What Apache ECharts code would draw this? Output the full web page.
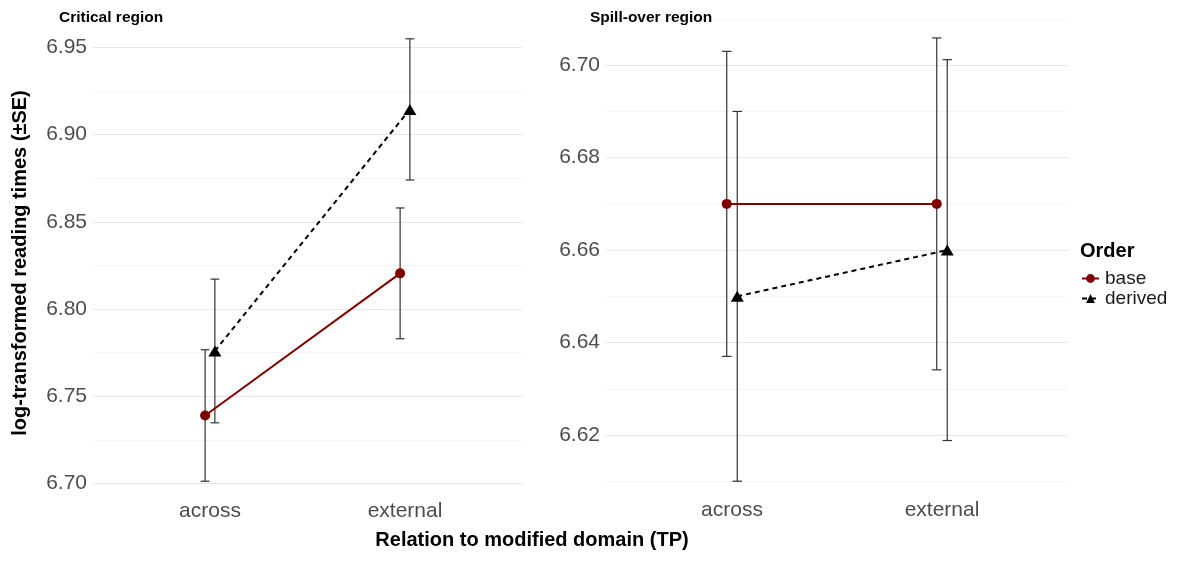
<!DOCTYPE html>
<html>
<head>
<meta charset="utf-8">
<script src="https://cdn.jsdelivr.net/npm/echarts@6/dist/echarts.min.js"></script>
<style>html,body{margin:0;padding:0;background:#fff}#c{width:1179px;height:561px}</style>
</head>
<body>
<div id="c"></div>
<script>
// ---- data ----
const categories = ['across', 'external'];
const orders = ['base', 'derived'];
// Critical region
const critBaseMean = [6.739, 6.8205];
const critBaseSE = [0.0377, 0.0375];
const critDerivedMean = [6.776, 6.9145];
const critDerivedSE = [0.0412, 0.0405];
// Spill-over region
const spillBaseMean = [6.670, 6.670];
const spillBaseSE = [0.033, 0.0359];
const spillDerivedMean = [6.650, 6.660];
const spillDerivedSE = [0.040, 0.0412];
// axis ticks
const critTicks = [6.70, 6.75, 6.80, 6.85, 6.90, 6.95];
const spillTicks = [6.62, 6.64, 6.66, 6.68, 6.70];

// ---- styling / layout params ----
const FONT = "'Liberation Sans', Arial, Helvetica, sans-serif";
const dodge = 0.025;      // position_dodge offset (category units)
const capHalf = 0.0225;   // error bar cap half width (category units)
const baseColor = '#800000';
const derivedColor = '#000000';

function pts(means, off) {
  return means.map((m, i) => [i + 1 + off, m]);
}
function bars(means, ses, off) {
  return means.map((m, i) => [i + 1 + off, m - ses[i], m + ses[i]]);
}
function errRender(params, api) {
  const x = api.value(0), lo = api.value(1), hi = api.value(2);
  const top = api.coord([x, hi]), bot = api.coord([x, lo]);
  const tl = api.coord([x - capHalf, hi]), tr = api.coord([x + capHalf, hi]);
  const bl = api.coord([x - capHalf, lo]), br = api.coord([x + capHalf, lo]);
  const st = { stroke: '#333333', lineWidth: 1.2 };
  return {
    type: 'group',
    children: [
      { type: 'line', shape: { x1: top[0], y1: top[1], x2: bot[0], y2: bot[1] }, style: st },
      { type: 'line', shape: { x1: tl[0], y1: tl[1], x2: tr[0], y2: tr[1] }, style: st },
      { type: 'line', shape: { x1: bl[0], y1: bl[1], x2: br[0], y2: br[1] }, style: st }
    ]
  };
}

const xAxisBase = {
  type: 'value', min: 0.4, max: 2.6,
  axisLine: { show: false }, axisTick: { show: false }, splitLine: { show: false },
  axisLabel: {
    customValues: [1, 2],
    formatter: v => categories[Math.round(v) - 1] || '',
    color: '#4d4d4d', fontSize: 21, fontFamily: FONT
  }
};

const chart = echarts.init(document.getElementById('c'), null, { renderer: 'canvas' });
const option = {
  animation: false,
  backgroundColor: '#ffffff',
  grid: [
    { left: 93, top: 47.5, width: 429, height: 436 },
    { left: 606, top: 19, width: 462, height: 462.2 }
  ],
  xAxis: [
    Object.assign({}, xAxisBase, { gridIndex: 0, axisLabel: Object.assign({}, xAxisBase.axisLabel, { margin: 17 }) }),
    Object.assign({}, xAxisBase, { gridIndex: 1, axisLabel: Object.assign({}, xAxisBase.axisLabel, { margin: 19 }) })
  ],
  yAxis: [
    {
      type: 'value', gridIndex: 0, min: 6.70, max: 6.95, interval: 0.025,
      axisLine: { show: false }, axisTick: { show: false },
      splitLine: { show: true, lineStyle: { color: ['#e6e6e6', '#f3f3f3'], width: 1 } },
      axisLabel: {
        margin: 6, color: '#4d4d4d', fontSize: 21, fontFamily: FONT,
        formatter: v => critTicks.some(t => Math.abs(t - v) < 1e-6) ? v.toFixed(2) : ''
      }
    },
    {
      type: 'value', gridIndex: 1, min: 6.61, max: 6.71, interval: 0.01,
      axisLine: { show: false }, axisTick: { show: false },
      splitLine: { show: true, lineStyle: { color: ['#f3f3f3', '#e6e6e6'], width: 1 } },
      axisLabel: {
        margin: 6, color: '#4d4d4d', fontSize: 21, fontFamily: FONT,
        formatter: v => spillTicks.some(t => Math.abs(t - v) < 1e-6) ? v.toFixed(2) : ''
      }
    }
  ],
  title: [
    { text: 'Critical region', left: 59, top: 10, padding: 0, textStyle: { fontSize: 15.5, fontWeight: 'bold', color: '#000', fontFamily: FONT } },
    { text: 'Spill-over region', left: 590, top: 10, padding: 0, textStyle: { fontSize: 15.5, fontWeight: 'bold', color: '#000', fontFamily: FONT } },
    { text: 'Order', left: 1080, top: 241, padding: 0, textStyle: { fontSize: 20, fontWeight: 'bold', color: '#000', fontFamily: FONT } }
  ],
  legend: {
    data: orders, orient: 'vertical', left: 1076, top: 264,
    itemWidth: 17, itemHeight: 11, itemGap: 1,
    textStyle: { fontSize: 19, color: '#1a1a1a', fontFamily: FONT, padding: [0, 0, 0, 1] },
    selectedMode: false
  },
  graphic: [
    { type: 'text', x: 20, y: 263, rotation: Math.PI / 2,
      style: { text: 'log-transformed reading times (±SE)', fontSize: 20, fontWeight: 'bold', fill: '#000', font: 'bold 20px ' + FONT, textAlign: 'center', textVerticalAlign: 'middle' } },
    { type: 'text', x: 532, y: 540,
      style: { text: 'Relation to modified domain (TP)', fontSize: 20, fontWeight: 'bold', fill: '#000', font: 'bold 20px ' + FONT, textAlign: 'center', textVerticalAlign: 'middle' } }
  ],
  series: [
    // error bars
    { type: 'custom', xAxisIndex: 0, yAxisIndex: 0, renderItem: errRender, clip: false, z: 1, silent: true,
      encode: { x: 0, y: [1, 2] }, data: bars(critBaseMean, critBaseSE, -dodge) },
    { type: 'custom', xAxisIndex: 0, yAxisIndex: 0, renderItem: errRender, clip: false, z: 1, silent: true,
      encode: { x: 0, y: [1, 2] }, data: bars(critDerivedMean, critDerivedSE, dodge) },
    { type: 'custom', xAxisIndex: 1, yAxisIndex: 1, renderItem: errRender, clip: false, z: 1, silent: true,
      encode: { x: 0, y: [1, 2] }, data: bars(spillBaseMean, spillBaseSE, -dodge) },
    { type: 'custom', xAxisIndex: 1, yAxisIndex: 1, renderItem: errRender, clip: false, z: 1, silent: true,
      encode: { x: 0, y: [1, 2] }, data: bars(spillDerivedMean, spillDerivedSE, dodge) },
    // lines + points
    { name: 'base', type: 'line', xAxisIndex: 0, yAxisIndex: 0, z: 3, clip: false,
      data: pts(critBaseMean, -dodge), symbol: 'circle', symbolSize: 10,
      lineStyle: { color: baseColor, width: 2 }, itemStyle: { color: baseColor } },
    { name: 'derived', type: 'line', xAxisIndex: 0, yAxisIndex: 0, z: 3, clip: false,
      data: pts(critDerivedMean, dodge), symbol: 'triangle', symbolSize: [13, 11],
      lineStyle: { color: derivedColor, width: 2, type: [5, 4] }, itemStyle: { color: derivedColor } },
    { name: 'base', type: 'line', xAxisIndex: 1, yAxisIndex: 1, z: 3, clip: false,
      data: pts(spillBaseMean, -dodge), symbol: 'circle', symbolSize: 10,
      lineStyle: { color: baseColor, width: 2 }, itemStyle: { color: baseColor } },
    { name: 'derived', type: 'line', xAxisIndex: 1, yAxisIndex: 1, z: 3, clip: false,
      data: pts(spillDerivedMean, dodge), symbol: 'triangle', symbolSize: [13, 11],
      lineStyle: { color: derivedColor, width: 2, type: [5, 4] }, itemStyle: { color: derivedColor } }
  ]
};
chart.setOption(option);
</script>
</body>
</html>
